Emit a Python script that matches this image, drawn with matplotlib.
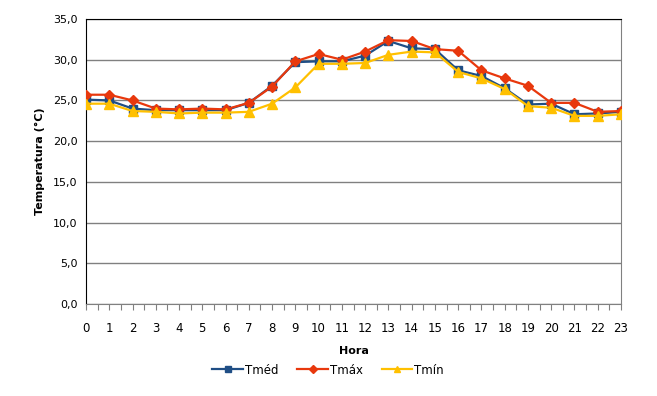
import matplotlib
matplotlib.use("Agg")
import matplotlib.pyplot as plt
import numpy as np

horas = list(range(24))
tmed = [25.1, 25.0, 24.0, 23.8, 23.8, 23.8, 23.8, 24.7, 26.8, 29.7, 29.8, 29.8,
        30.5, 32.3, 31.4, 31.3, 28.7, 28.0, 26.5, 24.5, 24.6, 23.3, 23.4, 23.6]
tmax = [25.7, 25.7, 25.0, 24.0, 23.9, 24.0, 23.9, 24.7, 26.7, 29.8, 30.7, 30.0,
        31.0, 32.4, 32.3, 31.3, 31.1, 28.7, 27.7, 26.8, 24.7, 24.7, 23.6, 23.7]
tmin = [24.6, 24.6, 23.7, 23.6, 23.4, 23.5, 23.5, 23.6, 24.6, 26.6, 29.5, 29.5,
        29.6, 30.6, 31.0, 30.9, 28.5, 27.7, 26.4, 24.3, 24.1, 23.1, 23.1, 23.3]

plt.rcParams['font.family'] = ['DejaVu Sans']

fig = plt.figure(figsize=(6.57, 3.96), dpi=100)
ax = fig.add_axes([86/657, 1-304/396, (621-86)/657, (304-19)/396])

ax.plot(horas, tmed, color='#1F4E85', lw=1.6, marker='s', ms=6, label='Tméd', zorder=3)
ax.plot(horas, tmax, color='#E8380D', lw=1.6, marker='D', ms=5.5, label='Tmáx', zorder=4)
ax.plot(horas, tmin, color='#FFC000', lw=1.6, marker='^', ms=6.5, label='Tmín', zorder=5)

ax.set_xlim(0, 23)
ax.set_ylim(0, 35)
yt = np.arange(0, 36, 5)
ax.set_yticks(yt)
ax.set_yticklabels([('%.1f' % v).replace('.', ',') for v in yt], fontsize=8)
ax.yaxis.grid(True, color='#808080', lw=1)
ax.set_axisbelow(True)
ax.tick_params(axis='y', length=0, pad=6)

xt = np.arange(0, 23.01, 0.5)
ax.set_xticks(xt)
ax.set_xticklabels([str(int(v)) if v == int(v) else '' for v in xt], fontsize=8.5)
ax.tick_params(axis='x', length=4, color='#808080', direction='out', pad=9)

ax.spines['left'].set_color('black')
ax.spines['top'].set_color('black')
ax.spines['right'].set_color('#808080')
ax.spines['bottom'].set_color('#808080')

ax.set_ylabel('Temperatura (°C)', fontsize=8, fontweight='bold', labelpad=6)
ax.set_xlabel('Hora', fontsize=8, fontweight='bold', labelpad=8)

fig.legend(loc='center', bbox_to_anchor=(328/657, 1-370/396), ncol=3, frameon=False,
           fontsize=8.5, handlelength=2.6, columnspacing=1.6, handletextpad=0.15,
           markerscale=0.75)

fig.savefig('out.png', dpi=100)
